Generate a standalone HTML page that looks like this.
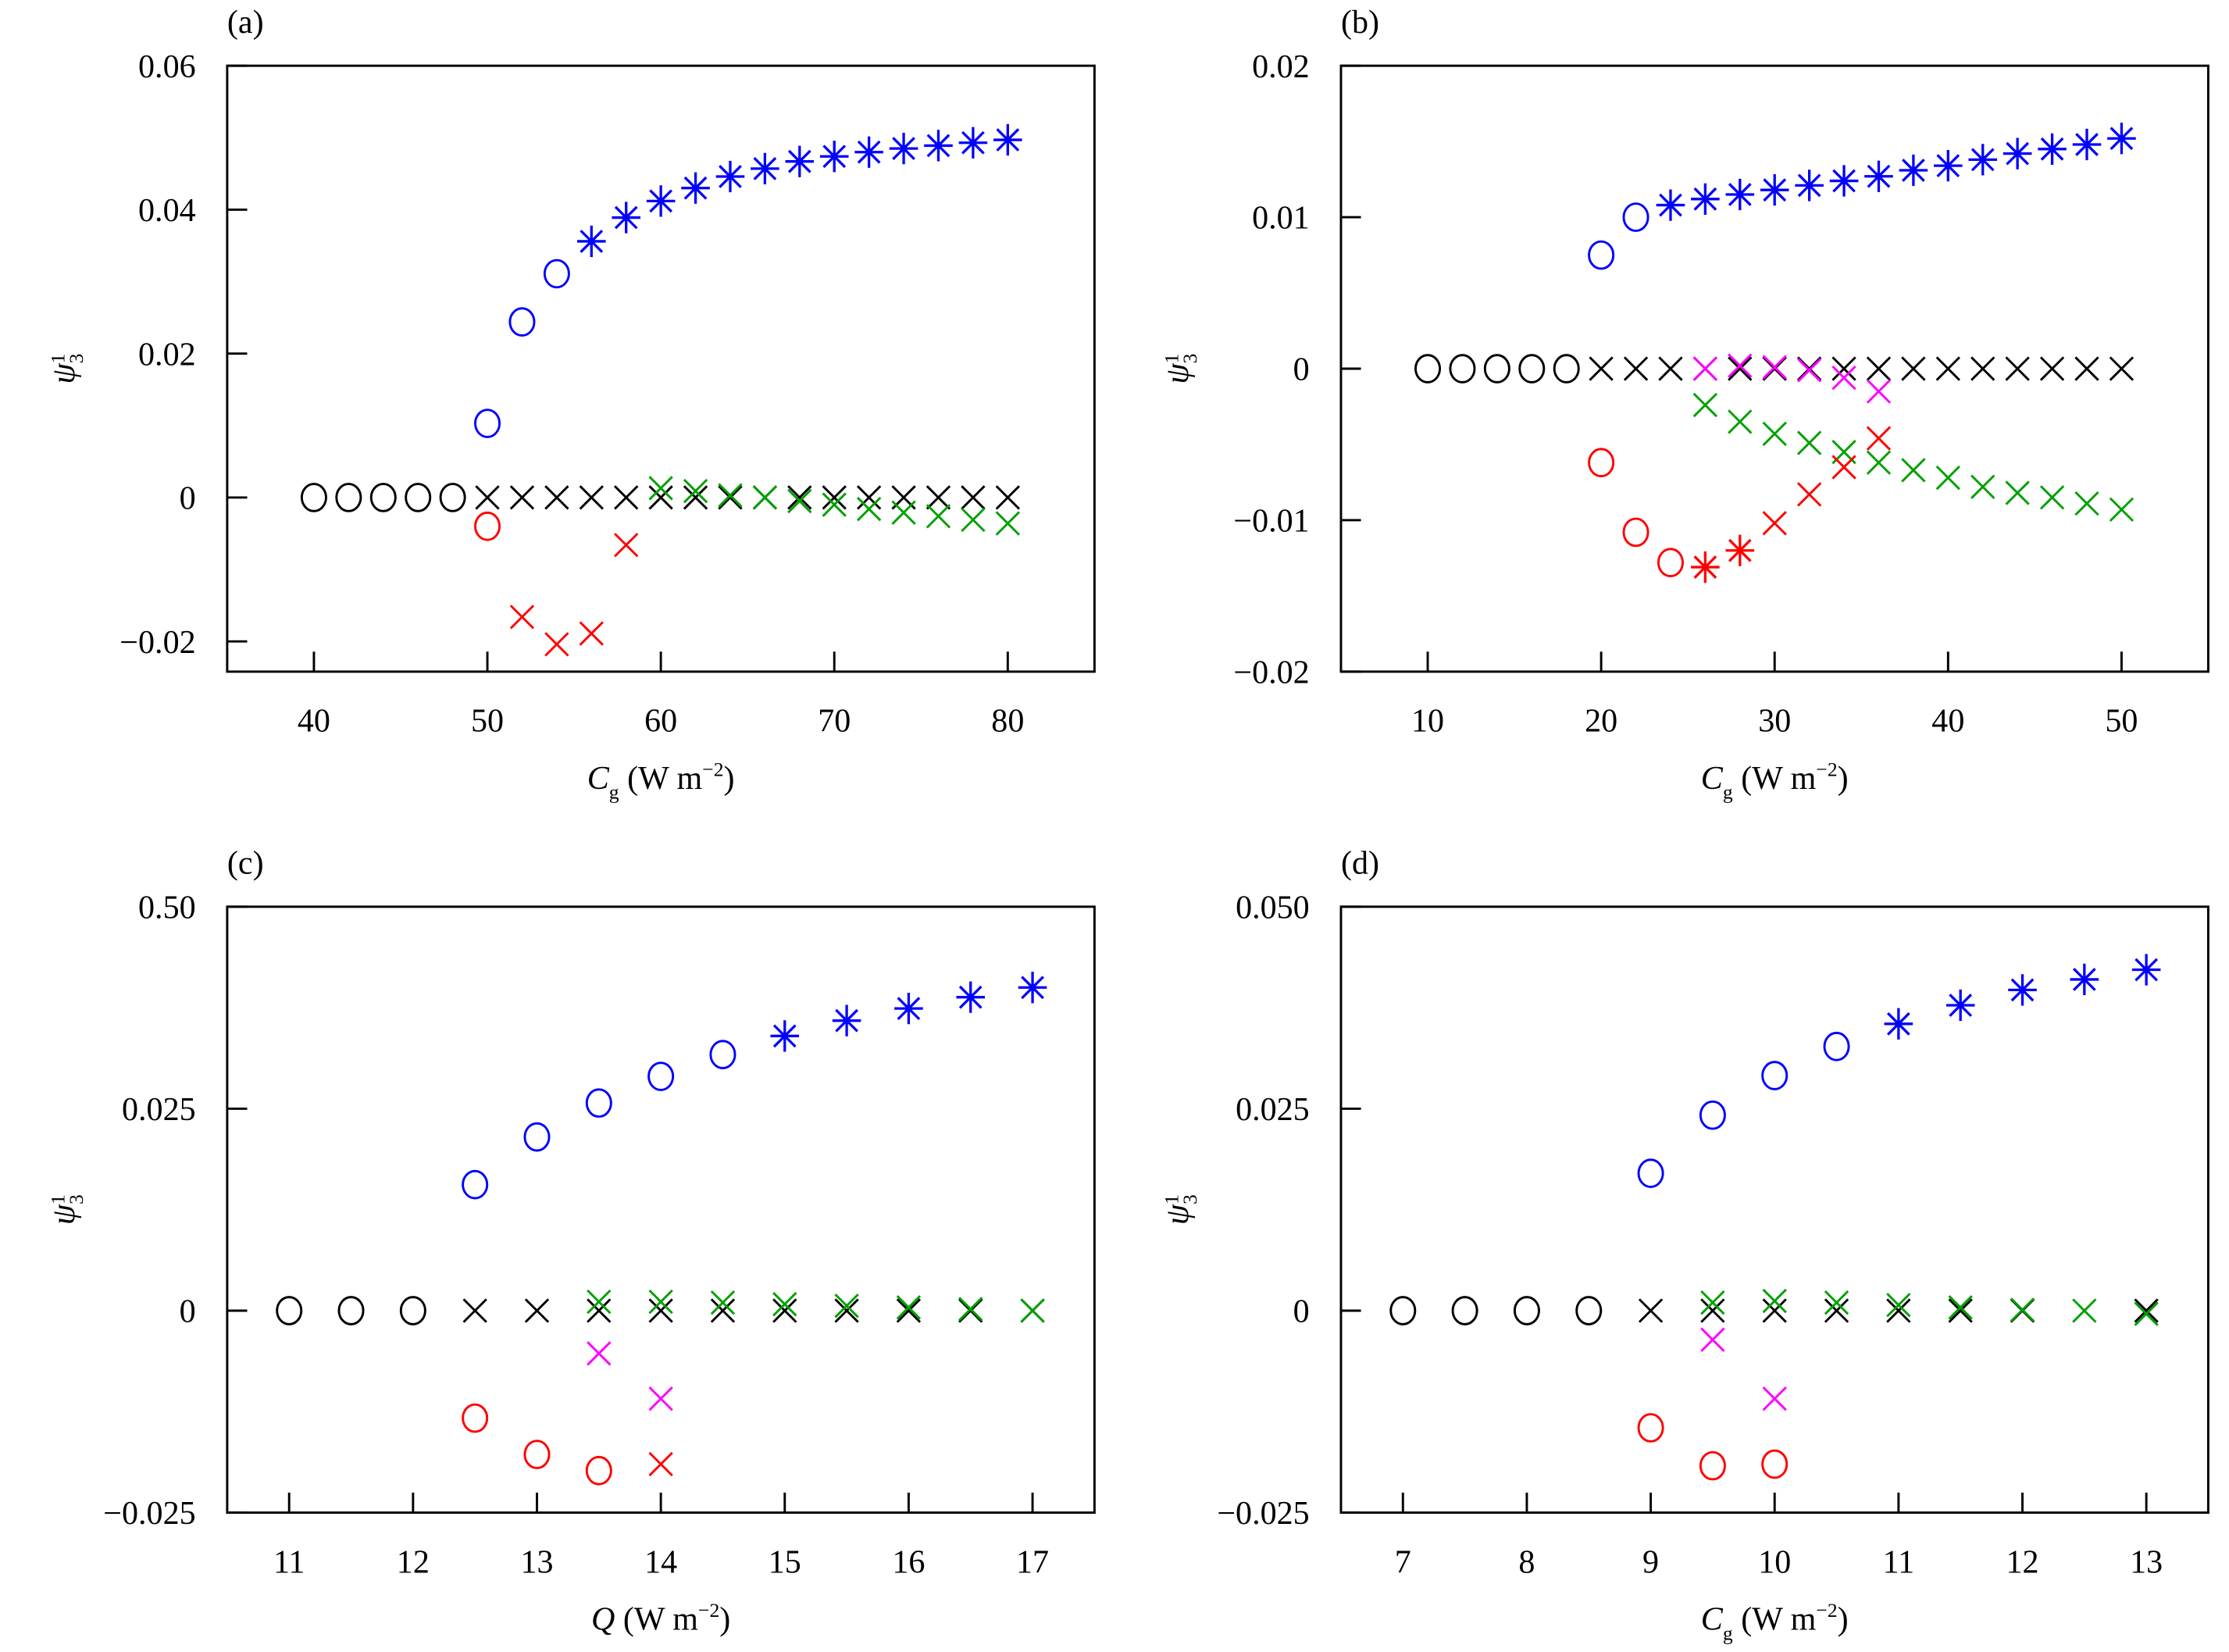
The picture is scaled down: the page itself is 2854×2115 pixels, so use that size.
<!DOCTYPE html>
<html><head><meta charset="utf-8"><style>
html,body{margin:0;padding:0;background:#fff;}
svg, svg text{font-family:"Liberation Serif","Times New Roman",serif;}
</style></head><body>
<svg id="fig" width="2854" height="2110" viewBox="0 0 1560 1153.3" preserveAspectRatio="none" xmlns="http://www.w3.org/2000/svg" font-family="Liberation Serif, serif"></svg>
<script>
// ---- Panel (a) data ----
const aXTicks=[40,50,60,70,80];
const aYTicks=[0.06,0.04,0.02,0,-0.02];
const aYLabels=["0.06","0.04","0.02","0","\u22120.02"];
const aBlackCircX=[40,42,44,46,48];
const aBlackCrossX=[50,52,54,56,58,60,62,64,66,68,70,72,74,76,78,80];
const aBlueCircX=[50,52,54];
const aBlueCircY=[0.0103,0.0244,0.0311];
const aBlueStarX=[56,58,60,62,64,66,68,70,72,74,76,78,80];
const aBlueStarY=[0.0356,0.0389,0.0412,0.0430,0.0446,0.0457,0.0467,0.0474,0.0480,0.0485,0.0489,0.0493,0.0497];
const aRedCircX=[50];
const aRedCircY=[-0.0040];
const aRedCrossX=[52,54,56,58];
const aRedCrossY=[-0.0166,-0.0204,-0.0189,-0.0066];
const aGreenCrossX=[60,62,64,66,68,70,72,74,76,78,80];
const aGreenCrossY=[0.0013,0.0009,0.0003,0.0000,-0.0005,-0.0010,-0.0016,-0.0021,-0.0026,-0.0031,-0.0036];
// ---- Panel (b) data ----
const bXTicks=[10,20,30,40,50];
const bYTicks=[0.02,0.01,0,-0.01,-0.02];
const bYLabels=["0.02","0.01","0","\u22120.01","\u22120.02"];
const bBlackCircX=[10,12,14,16,18];
const bBlackCrossX=[20,22,24,26,28,30,32,34,36,38,40,42,44,46,48,50];
const bBlueCircX=[20,22];
const bBlueCircY=[0.0075,0.0100];
const bBlueStarX=[24,26,28,30,32,34,36,38,40,42,44,46,48,50];
const bBlueStarY=[0.0108,0.0112,0.0115,0.0118,0.0121,0.0124,0.0127,0.0131,0.0134,0.0138,0.0142,0.0145,0.0148,0.0152];
const bRedCircX=[20,22,24];
const bRedCircY=[-0.0062,-0.0108,-0.0128];
const bRedStarX=[26,28];
const bRedStarY=[-0.0131,-0.0120];
const bRedCrossX=[30,32,34,36];
const bRedCrossY=[-0.0102,-0.0083,-0.0065,-0.0046];
const bMagCrossX=[26,28,30,32,34,36];
const bMagCrossY=[0.0000,0.0002,0.0001,-0.0001,-0.0006,-0.0015];
const bGreenCrossX=[26,28,30,32,34,36,38,40,42,44,46,48,50];
const bGreenCrossY=[-0.0024,-0.0035,-0.0043,-0.0049,-0.0055,-0.0062,-0.0067,-0.0072,-0.0078,-0.0082,-0.0085,-0.0089,-0.0093];
// ---- Panel (c) data ----
const cXTicks=[11,12,13,14,15,16,17];
const cYTicks=[0.05,0.025,0,-0.025];
const cYLabels=["0.50","0.025","0","\u22120.025"];
const cBlackCircX=[11,11.5,12];
const cBlackCrossX=[12.5,13,13.5,14,14.5,15,15.5,16,16.5,17];
const cBlueCircX=[12.5,13,13.5,14,14.5];
const cBlueCircY=[0.0156,0.0215,0.0257,0.0290,0.0317];
const cBlueStarX=[15,15.5,16,16.5,17];
const cBlueStarY=[0.0340,0.0359,0.0374,0.0388,0.0400];
const cRedCircX=[12.5,13,13.5];
const cRedCircY=[-0.0133,-0.0178,-0.0198];
const cRedCrossX=[14];
const cRedCrossY=[-0.0190];
const cMagCrossX=[13.5,14];
const cMagCrossY=[-0.0053,-0.0109];
const cGreenCrossX=[13.5,14,14.5,15,15.5,16,16.5,17];
const cGreenCrossY=[0.0011,0.0011,0.0010,0.0008,0.0006,0.0004,0.0002,0.0000];
// ---- Panel (d) data ----
const dXTicks=[7,8,9,10,11,12,13];
const dYTicks=[0.05,0.025,0,-0.025];
const dYLabels=["0.050","0.025","0","\u22120.025"];
const dBlackCircX=[7,7.5,8,8.5];
const dBlackCrossX=[9,9.5,10,10.5,11,11.5,12,13];
const dBlueCircX=[9,9.5,10,10.5];
const dBlueCircY=[0.0170,0.0242,0.0291,0.0327];
const dBlueStarX=[11,11.5,12,12.5,13];
const dBlueStarY=[0.0355,0.0378,0.0397,0.0410,0.0422];
const dRedCircX=[9,9.5,10];
const dRedCircY=[-0.0145,-0.0192,-0.0190];
const dMagCrossX=[9.5,10];
const dMagCrossY=[-0.0036,-0.0109];
const dGreenCrossX=[9.5,10,10.5,11,11.5,12,12.5,13];
const dGreenCrossY=[0.0010,0.0012,0.0010,0.0007,0.0004,0.0001,0.0000,-0.0004];

const NS="http://www.w3.org/2000/svg";
const svg=document.getElementById('fig');
const FF='Liberation Serif, serif';
function mk(tag,attrs,parent){const e=document.createElementNS(NS,tag);for(const k in attrs)e.setAttribute(k,attrs[k]);(parent||svg).appendChild(e);return e;}
const BLUE="#0000ff",RED="#ff0000",GREEN="#00a000",MAG="#ff00ff",BLACK="#000000";

function panel(cfg){
  const g=mk('g',{'font-family':FF});
  
  
  const L=cfg.L,R=cfg.L+607,T=cfg.T,B=cfg.T+424;
  const sx=v=>L+(v-cfg.x0)/(cfg.x1-cfg.x0)*(R-L);
  const sy=v=>B-(v-cfg.y0)/(cfg.y1-cfg.y0)*(B-T);
  const box=mk('rect',{x:L,y:T,width:R-L,height:B-T,fill:'none',stroke:'#000','stroke-width':1.6},g);
  
  
  cfg.xt.forEach(v=>{
    const t=mk('line',{x1:sx(v),x2:sx(v),y1:B,y2:B-14,stroke:'#000','stroke-width':1.6},g);
    
    
    const lb=mk('text',{x:sx(v),y:B+42,'text-anchor':'middle','font-size':23,'font-family':FF},g);
    lb.textContent=String(v);
    
    
  });
  cfg.yt.forEach((v,i)=>{
    const t=mk('line',{x1:L,x2:L+14,y1:sy(v),y2:sy(v),stroke:'#000','stroke-width':1.6},g);
    
    
    const lb=mk('text',{x:L-22,y:sy(v)+8,'text-anchor':'end','font-size':23,'font-family':FF},g);
    lb.textContent=cfg.yl[i];
    
    
  });
  const pl=mk('text',{x:L,y:T-23,'font-size':23,'font-family':FF},g);
  pl.textContent='('+cfg.id+')';
  
  
  const yt=mk('text',{transform:`translate(${L-107},${(T+B)/2}) rotate(-90)`,'font-size':23,'text-anchor':'middle','font-family':FF},g);
  yt.innerHTML='<tspan font-style="italic">ψ</tspan><tspan font-size="14" dy="-7">1</tspan><tspan font-size="14" dx="-7" dy="13">3</tspan>';
  
  
  const xt=mk('text',{x:(L+R)/2,y:B+82,'font-size':23,'text-anchor':'middle','font-family':FF},g);
  xt.innerHTML=cfg.xlab==='Q'?'<tspan font-style="italic">Q</tspan> (W m<tspan font-size="14" dy="-9">−2</tspan><tspan dy="9">)</tspan>'
    :'<tspan font-style="italic">C</tspan><tspan font-size="14" dy="7">g</tspan><tspan dy="-7"> (W m</tspan><tspan font-size="14" dy="-9">−2</tspan><tspan dy="9">)</tspan>';
  
  
  function circ(xs,ys,col,name){xs.forEach((x,i)=>{const y=ys?ys[i]:0;
    const c=mk('ellipse',{cx:sx(x),cy:sy(y),rx:8.5,ry:9.5,fill:'none',stroke:col,'stroke-width':1.6},g);
    
    });}
  function cross(xs,ys,col,name){xs.forEach((x,i)=>{const y=ys?ys[i]:0;const X=sx(x),Y=sy(y),s=8;
    const p=mk('path',{d:`M${X-s},${Y-s}L${X+s},${Y+s}M${X-s},${Y+s}L${X+s},${Y-s}`,stroke:col,'stroke-width':1.6,fill:'none'},g);
    
    });}
  function star(xs,ys,col,name){xs.forEach((x,i)=>{const X=sx(x),Y=sy(ys[i]),s=10,d=7.5;
    const p=mk('path',{d:`M${X-s},${Y}L${X+s},${Y}M${X},${Y-s-1}L${X},${Y+s+1}M${X-d},${Y-d}L${X+d},${Y+d}M${X-d},${Y+d}L${X+d},${Y-d}`,stroke:col,'stroke-width':1.8,fill:'none'},g);
    
    });}
  const s=cfg.s;
  circ(s.bkc,null,BLACK,'black-circle-point');
  cross(s.bkx,null,BLACK,'black-cross-point');
  if(s.gx) cross(s.gx,s.gy,GREEN,'green-cross-point');
  if(s.mx) cross(s.mx,s.my,MAG,'magenta-cross-point');
  circ(s.bcx,s.bcy,BLUE,'blue-circle-point');
  star(s.bsx,s.bsy,BLUE,'blue-star-point');
  if(s.rcx) circ(s.rcx,s.rcy,RED,'red-circle-point');
  if(s.rsx) star(s.rsx,s.rsy,RED,'red-star-point');
  if(s.rxx) cross(s.rxx,s.rxy,RED,'red-cross-point');
}
panel({id:'a',L:159,T:46,x0:35,x1:85,y0:-0.0242,y1:0.06,xt:aXTicks,yt:aYTicks,yl:aYLabels,xlab:'C',
  s:{bkc:aBlackCircX,bkx:aBlackCrossX,bcx:aBlueCircX,bcy:aBlueCircY,bsx:aBlueStarX,bsy:aBlueStarY,rcx:aRedCircX,rcy:aRedCircY,rxx:aRedCrossX,rxy:aRedCrossY,gx:aGreenCrossX,gy:aGreenCrossY}});
panel({id:'b',L:938.5,T:46,x0:5,x1:55,y0:-0.02,y1:0.02,xt:bXTicks,yt:bYTicks,yl:bYLabels,xlab:'C',
  s:{bkc:bBlackCircX,bkx:bBlackCrossX,bcx:bBlueCircX,bcy:bBlueCircY,bsx:bBlueStarX,bsy:bBlueStarY,rcx:bRedCircX,rcy:bRedCircY,rsx:bRedStarX,rsy:bRedStarY,rxx:bRedCrossX,rxy:bRedCrossY,mx:bMagCrossX,my:bMagCrossY,gx:bGreenCrossX,gy:bGreenCrossY}});
panel({id:'c',L:159,T:634.5,x0:10.5,x1:17.5,y0:-0.025,y1:0.05,xt:cXTicks,yt:cYTicks,yl:cYLabels,xlab:'Q',
  s:{bkc:cBlackCircX,bkx:cBlackCrossX,bcx:cBlueCircX,bcy:cBlueCircY,bsx:cBlueStarX,bsy:cBlueStarY,rcx:cRedCircX,rcy:cRedCircY,rxx:cRedCrossX,rxy:cRedCrossY,mx:cMagCrossX,my:cMagCrossY,gx:cGreenCrossX,gy:cGreenCrossY}});
panel({id:'d',L:938.5,T:634.5,x0:6.5,x1:13.5,y0:-0.025,y1:0.05,xt:dXTicks,yt:dYTicks,yl:dYLabels,xlab:'C',
  s:{bkc:dBlackCircX,bkx:dBlackCrossX,bcx:dBlueCircX,bcy:dBlueCircY,bsx:dBlueStarX,bsy:dBlueStarY,rcx:dRedCircX,rcy:dRedCircY,mx:dMagCrossX,my:dMagCrossY,gx:dGreenCrossX,gy:dGreenCrossY}});
</script>
</body></html>
